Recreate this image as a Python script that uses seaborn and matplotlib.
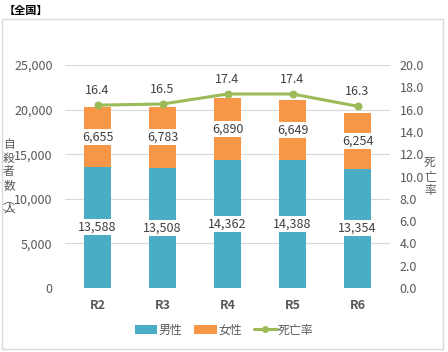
import numpy as np
import pandas as pd
import seaborn as sns
import matplotlib
matplotlib.use("Agg")
import matplotlib.pyplot as plt
from matplotlib.patches import Patch, Rectangle
from matplotlib.lines import Line2D
from matplotlib.ticker import FuncFormatter

years = ["R2", "R3", "R4", "R5", "R6"]
male = [13588, 13508, 14362, 14388, 13354]
female = [6655, 6783, 6890, 6649, 6254]
rate = [16.4, 16.5, 17.4, 17.4, 16.3]

sns.set_theme(style="white")
plt.rcParams['font.family'] = ['Noto Sans CJK JP', 'DejaVu Sans']

C_M = "#4BACC6"
C_F = "#F79646"
C_R = "#9BBB59"
TXT = "#595959"
LBL = "#404040"
FS = 9

df = pd.DataFrame({"year": years, "male": male, "female": female, "rate": rate})
df["total"] = df["male"] + df["female"]

fig = plt.figure(figsize=(4.48, 3.52), dpi=100)
fig.patch.set_facecolor("white")
fig.patches.append(Rectangle((2/448, 3/352), 441/448, 330/352, transform=fig.transFigure,
                             fill=False, edgecolor="#D9D9D9", linewidth=1.0))
ax = fig.add_axes([65/448, 1-288/352, 325/448, 223/352])

sns.barplot(data=df, x="year", y="total", color=C_F, width=0.415, ax=ax,
            saturation=1, edgecolor="none")
sns.barplot(data=df, x="year", y="male", color=C_M, width=0.415, ax=ax,
            saturation=1, edgecolor="none")

ax.set_ylim(0, 25000)
ax.set_xlim(-0.5, 4.5)
ax.set_yticks(np.arange(0, 25001, 5000))
ax.yaxis.set_major_formatter(FuncFormatter(lambda v, p: f"{int(v):,}"))
ax.grid(axis="y", color="#D9D9D9", linewidth=0.8)
ax.set_axisbelow(True)
for s in ax.spines.values():
    s.set_visible(False)
ax.set_xlabel("")
ax.set_ylabel("")
ax.tick_params(axis="y", length=0, labelsize=FS, labelcolor=TXT, pad=9)
ax.tick_params(axis="x", length=0, labelsize=FS, labelcolor=TXT, pad=8)
for t in ax.get_xticklabels():
    t.set_fontweight("bold")

bbox = dict(boxstyle="square,pad=0.12", facecolor="white", edgecolor="none")
for i in range(len(years)):
    ax.text(i, male[i] / 2, f"{male[i]:,}", ha="center", va="center",
            fontsize=FS, color=LBL, bbox=bbox)
    ax.text(i, male[i] + female[i] / 2, f"{female[i]:,}", ha="center", va="center",
            fontsize=FS, color=LBL, bbox=bbox)

ax2 = ax.twinx()
sns.lineplot(x=np.arange(len(years)), y=rate, ax=ax2, color=C_R, linewidth=2.2,
             marker="o", markersize=5, markeredgecolor=C_R)
ax2.set_ylim(0, 20)
ax2.set_yticks(np.arange(0, 20.1, 2))
ax2.yaxis.set_major_formatter(FuncFormatter(lambda v, p: f"{v:.1f}"))
for s in ax2.spines.values():
    s.set_visible(False)
ax2.tick_params(axis="y", length=0, labelsize=FS, labelcolor=TXT, pad=7)
ax2.set_ylabel("")
ax2.set_xlim(-0.5, 4.5)
for i, r in enumerate(rate):
    ax2.annotate(f"{r:.1f}", (i, r), xytext=(0, 6), textcoords="offset points",
                 ha="center", va="bottom", fontsize=FS, color=LBL)

fig.text(4/448, 1-10/352, "【全国】", ha="left", va="center", fontsize=8,
         fontweight="bold", color="black")
fig.text(9/448, 1-165/352, "自\n殺\n者\n数", ha="center", va="center",
         fontsize=8.5, color=TXT, linespacing=1.08)
fig.text(9/448, 1-208/352, "︵\n人\n︶", ha="center", va="center",
         fontsize=8.5, color=TXT, linespacing=0.5)
fig.text(430/448, 1-177/352, "死\n亡\n率", ha="center", va="center",
         fontsize=8.5, color=TXT, linespacing=1.08)

handles = [Patch(facecolor=C_M, edgecolor="none"),
           Patch(facecolor=C_F, edgecolor="none"),
           Line2D([0], [0], color=C_R, linewidth=2.2, marker="o", markersize=4)]
fig.legend(handles, ["男性", "女性", "死亡率"], loc="center", ncol=3,
           bbox_to_anchor=(0.5, 1-330/352), frameon=False, fontsize=8.6,
           handlelength=1.9, handletextpad=0.1, columnspacing=1.0,
           handleheight=0.8, labelcolor=TXT)

fig.savefig("out.png", dpi=100)
